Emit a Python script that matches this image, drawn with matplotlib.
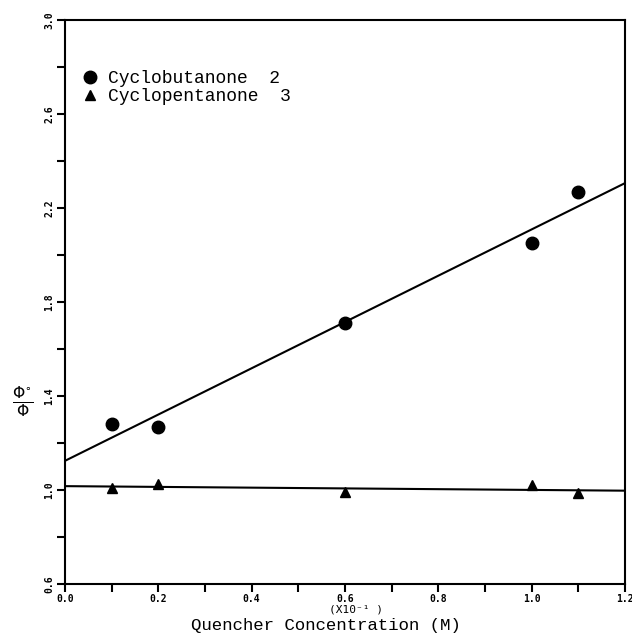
import matplotlib
matplotlib.use("Agg")
import matplotlib.pyplot as plt
import numpy as np
from matplotlib.ticker import MultipleLocator, FormatStrFormatter

# Quencher concentration (units of 10^-1 M)
conc = [0.1, 0.2, 0.6, 1.0, 1.1]

# Phi0 / Phi
cyclobutanone = [1.28, 1.267, 1.709, 2.052, 2.267]
cyclopentanone = [1.01, 1.024, 0.993, 1.021, 0.986]

series_labels = ["Cyclobutanone  2", "Cyclopentanone  3"]

mono = "Liberation Mono"
tick_font = {"family": "DejaVu Sans Mono", "weight": "bold", "size": 7}

figure = plt.figure(figsize=(6.32, 6.35), dpi=100)
axis = figure.add_axes([0.1028, 0.0803, 0.8861, 0.8882])

# least-squares lines over the full axis range
x_fit = np.array([0.0, 1.2])
for values in (cyclobutanone, cyclopentanone):
    slope, intercept = np.polyfit(conc, values, 1)
    axis.plot(x_fit, intercept + slope * x_fit, color="black", linewidth=1.5,
              zorder=2)

axis.plot(conc, cyclobutanone, linestyle="none", marker="o", markersize=9,
          color="black", label=series_labels[0], zorder=3)
axis.plot(conc, cyclopentanone, linestyle="none", marker="^", markersize=7,
          color="black", label=series_labels[1], zorder=3)

axis.set_xlim(0.0, 1.2)
axis.set_ylim(0.6, 3.0)

axis.xaxis.set_major_locator(MultipleLocator(0.2))
axis.xaxis.set_minor_locator(MultipleLocator(0.1))
axis.yaxis.set_major_locator(MultipleLocator(0.4, offset=0.2))
axis.yaxis.set_minor_locator(MultipleLocator(0.2))
axis.xaxis.set_major_formatter(FormatStrFormatter("%.1f"))
axis.yaxis.set_major_formatter(FormatStrFormatter("%.1f"))

axis.tick_params(which="both", direction="out", length=6, width=1.5,
                 top=False, right=False, pad=1.5)
for label in axis.get_xticklabels():
    label.set_fontproperties(tick_font)
for label in axis.get_yticklabels():
    label.set_fontproperties(tick_font)
    label.set_rotation(90)
    label.set_verticalalignment("center")

for spine in axis.spines.values():
    spine.set_linewidth(1.5)

axis.set_xlabel("Quencher Concentration (M)", family=mono, fontsize=12.5)
axis.xaxis.set_label_coords(0.466, -0.0605)
axis.xaxis.label.set_verticalalignment("top")
axis.text(0.52, -0.0355, "(X10\u207b\u00b9 )", transform=axis.transAxes,
          family=["DejaVu Sans Mono"], fontsize=8, ha="center", va="top")

axis.set_ylabel(r"$\frac{\Phi^{\circ}}{\Phi}$", fontsize=16, rotation=0,
                va="center", ha="center")
axis.yaxis.set_label_coords(-0.076, 0.323)

legend = axis.legend(loc="upper left", bbox_to_anchor=(-0.007, 0.943),
                     frameon=False, handletextpad=0.4, handlelength=1.2,
                     labelspacing=0.05, borderaxespad=0.6,
                     prop={"family": mono, "size": 13})

figure.savefig("out.png", dpi=100)
